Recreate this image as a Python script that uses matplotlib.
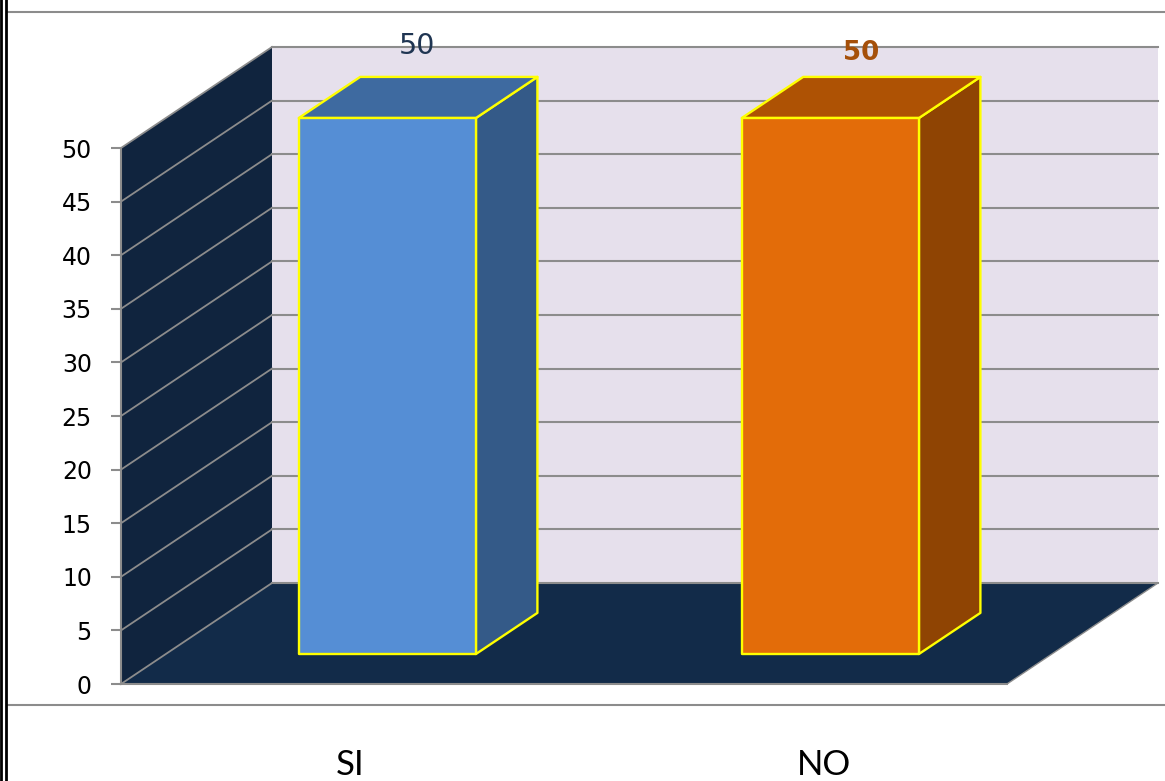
import matplotlib
matplotlib.use("Agg")
import matplotlib.pyplot as plt
from matplotlib.lines import Line2D
from matplotlib.patches import Polygon

categories = ["SI", "NO"]
values = [50, 50]
y_ticks = [0, 5, 10, 15, 20, 25, 30, 35, 40, 45, 50]

W, H = 1165, 781
GREY = "#8c8c8c"
YELLOW = "#ffff00"

# plot box in pixels, front plane of the 3d box
left, right, top, bottom = 121, 1007, 148, 684
# depth of the box, pixels
depth_x, depth_y = 151, 101
# where the bars sit inside the depth
bar_near, bar_far = 0.297, 0.704
bar_width = 0.4

fig = plt.figure(figsize=(W / 100, H / 100), dpi=100, facecolor="white")
ax = fig.add_axes([left / W, 1 - bottom / H, (right - left) / W, (bottom - top) / H])
ax.set_xlim(-0.5, 1.5)
ax.set_ylim(0, 50)
ax.patch.set_visible(False)

# data units per pixel, for the oblique projection
ux = 2 / (right - left)
uy = 50 / (bottom - top)


def pt(x, y, d=0.0):
    return (x + d * depth_x * ux, y + d * depth_y * uy)


def face(points, color, z, edge="none", lw=0):
    ax.add_patch(Polygon(points, closed=True, facecolor=color, edgecolor=edge,
                         linewidth=lw, zorder=z, clip_on=False, joinstyle="round"))


# walls and floor
face([pt(-0.5, 0, 1), pt(1.5, 0, 1), pt(1.5, 50, 1), pt(-0.5, 50, 1)], "#e6e0ec", 1)
face([pt(-0.5, 0), pt(-0.5, 0, 1), pt(-0.5, 50, 1), pt(-0.5, 50)], "#10243e", 1)
face([pt(-0.5, 0), pt(1.5, 0), pt(1.5, 0, 1), pt(-0.5, 0, 1)], "#122b49", 1)

# gridlines run along the side wall then the back wall
for v in y_ticks:
    xs, ys = zip(pt(-0.5, v), pt(-0.5, v, 1))
    ax.plot(xs, ys, color=GREY, lw=1.3, zorder=2, clip_on=False)
    xs, ys = zip(pt(-0.5, v, 1), pt(1.5, v, 1))
    ax.plot(xs, ys, color=GREY, lw=1.5, zorder=2, clip_on=False)
xs, ys = zip(pt(1.5, 0, 1), pt(1.5, 0))
ax.plot(xs, ys, color=GREY, lw=1.0, zorder=2, clip_on=False)

# bars
colors = [("#558ed5", "#345a88", "#3e6aa0"), ("#e36c09", "#8f4403", "#ae5204")]
label_style = [("#1f3552", "normal", 20.5, -32, 31), ("#a5500a", "bold", 18.7, -31, 24)]
for i, (cat, val) in enumerate(zip(categories, values)):
    x0, x1 = i - bar_width / 2, i + bar_width / 2
    front_col, side_col, top_col = colors[i]
    edge = dict(edge=YELLOW, lw=1.7)
    face([pt(x1, 0, bar_near), pt(x1, 0, bar_far), pt(x1, val, bar_far), pt(x1, val, bar_near)], side_col, 3, **edge)
    face([pt(x0, val, bar_near), pt(x1, val, bar_near), pt(x1, val, bar_far), pt(x0, val, bar_far)], top_col, 3, **edge)
    face([pt(x0, 0, bar_near), pt(x1, 0, bar_near), pt(x1, val, bar_near), pt(x0, val, bar_near)], front_col, 4, **edge)

    col, weight, size, dx, dy = label_style[i]
    ax.annotate(str(val), xy=pt(i, val, bar_far), xytext=(dx, dy), textcoords="offset pixels",
                ha="center", va="center", fontsize=size, color=col, fontweight=weight,
                zorder=6, annotation_clip=False)

# axis
for name in ("top", "right"):
    ax.spines[name].set_visible(False)
for name in ("left", "bottom"):
    ax.spines[name].set_color(GREY)
    ax.spines[name].set_linewidth(1.5)
    ax.spines[name].set_zorder(5)
ax.set_yticks(y_ticks)
ax.tick_params(axis="y", length=7, width=1.5, color=GREY, labelsize=17, labelcolor="black", pad=14)
ax.set_xticks([])

label_shift = [8, 38]
for i, cat in enumerate(categories):
    ax.annotate(cat, xy=(i, 0), xytext=(label_shift[i], -81), textcoords="offset pixels",
                ha="center", va="center", fontsize=25, color="black", family="Lato",
                annotation_clip=False)

# outer frame of the chart
def hline(y):
    fig.add_artist(Line2D([7 / W, 1], [1 - y / H] * 2, color=GREY, lw=1.5))


hline(12)
hline(705)
fig.add_artist(Line2D([1.3 / W] * 2, [0, 1], color="black", lw=2))
fig.add_artist(Line2D([6.2 / W] * 2, [0, 1], color="black", lw=2))

fig.savefig("out.png", dpi=100, facecolor="white")
